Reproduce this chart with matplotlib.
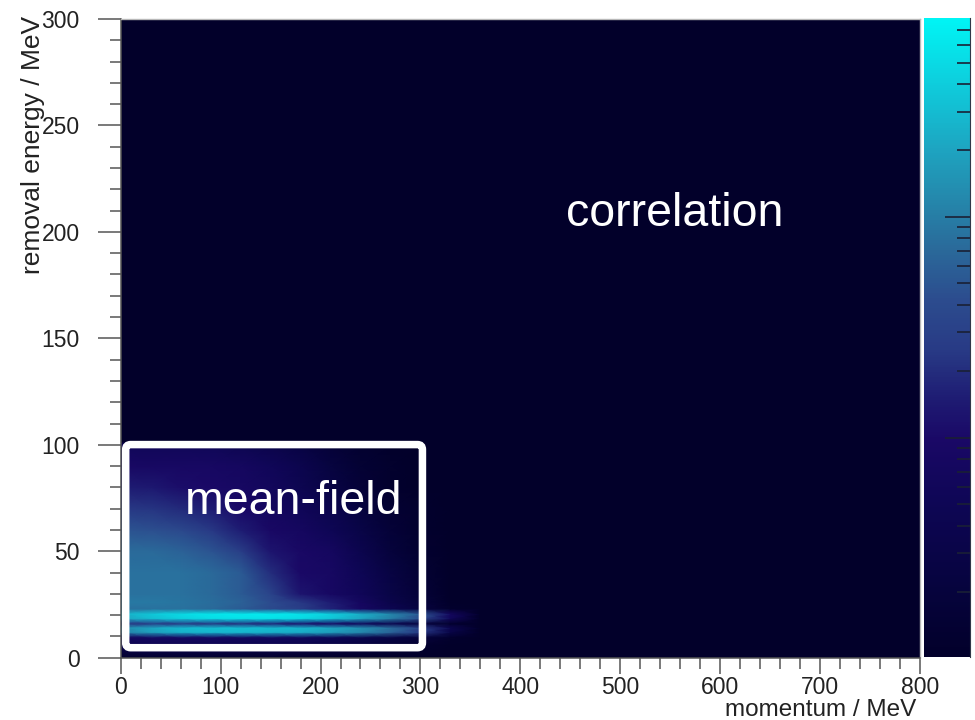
import numpy as np
import matplotlib
matplotlib.use('Agg')
import matplotlib.pyplot as plt
from matplotlib.colors import LinearSegmentedColormap, LogNorm
from matplotlib.patches import FancyBboxPatch
from matplotlib.ticker import MultipleLocator, LogLocator, NullFormatter

plt.rcParams['font.family'] = ['Liberation Sans', 'DejaVu Sans']

# grid nodes of the spectral function
momentum = [0, 30, 60, 90, 120, 150, 180, 210, 240, 270, 300, 330, 360, 400, 800]
energy = [0, 6, 9.5, 12, 14, 16, 18.5, 20.5, 23, 26, 30, 40, 50, 60, 70, 80, 90, 100, 101.5, 300]

# intensity, one row per energy node, one column per momentum node
intensity = [
    [0.012, 0.013, 0.013, 0.013, 0.013, 0.012, 0.011, 0.01, 0.01, 0.01, 0.01, 0.01, 0.01, 0.01, 0.01],
    [0.039, 0.044, 0.044, 0.044, 0.039, 0.039, 0.034, 0.028, 0.023, 0.017, 0.013, 0.01, 0.01, 0.01, 0.01],
    [0.075, 0.086, 0.086, 0.086, 0.075, 0.075, 0.066, 0.054, 0.039, 0.028, 0.020, 0.012, 0.01, 0.01, 0.01],
    [1.0, 1.8, 2.5, 2.7, 2.7, 2.5, 2.3, 1.8, 1.2, 0.65, 0.24, 0.03, 0.01, 0.01, 0.01],
    [1.2, 2.1, 2.9, 3.1, 3.1, 2.9, 2.7, 2.1, 1.4, 0.76, 0.28, 0.04, 0.01, 0.01, 0.01],
    [0.25, 0.25, 0.25, 0.23, 0.20, 0.17, 0.12, 0.09, 0.061, 0.039, 0.023, 0.012, 0.01, 0.01, 0.01],
    [2.0, 3.0, 4.2, 5.2, 5.6, 5.6, 4.9, 3.5, 2.1, 1.05, 0.42, 0.06, 0.01, 0.01, 0.01],
    [2.4, 3.55, 4.95, 6.05, 6.45, 6.45, 5.65, 4.05, 2.4, 1.2, 0.48, 0.07, 0.01, 0.01, 0.01],
    [0.82, 0.82, 0.82, 0.72, 0.55, 0.40, 0.28, 0.17, 0.086, 0.044, 0.023, 0.012, 0.01, 0.01, 0.01],
    [0.93, 0.93, 0.87, 0.76, 0.63, 0.42, 0.25, 0.15, 0.075, 0.034, 0.020, 0.011, 0.01, 0.01, 0.01],
    [0.82, 0.82, 0.82, 0.72, 0.55, 0.33, 0.13, 0.086, 0.057, 0.030, 0.017, 0.01, 0.01, 0.01, 0.01],
    [0.82, 0.82, 0.82, 0.72, 0.55, 0.20, 0.098, 0.086, 0.050, 0.026, 0.015, 0.01, 0.01, 0.01, 0.01],
    [0.72, 0.72, 0.63, 0.48, 0.28, 0.13, 0.092, 0.075, 0.039, 0.020, 0.013, 0.01, 0.01, 0.01, 0.01],
    [0.48, 0.45, 0.37, 0.25, 0.15, 0.092, 0.075, 0.050, 0.030, 0.017, 0.012, 0.01, 0.01, 0.01, 0.01],
    [0.25, 0.23, 0.19, 0.15, 0.098, 0.075, 0.057, 0.039, 0.023, 0.014, 0.012, 0.01, 0.01, 0.01, 0.01],
    [0.15, 0.14, 0.11, 0.098, 0.086, 0.066, 0.044, 0.028, 0.017, 0.012, 0.01, 0.01, 0.01, 0.01, 0.01],
    [0.092, 0.086, 0.086, 0.086, 0.075, 0.057, 0.039, 0.023, 0.015, 0.012, 0.01, 0.01, 0.01, 0.01, 0.01],
    [0.057, 0.057, 0.057, 0.054, 0.044, 0.034, 0.026, 0.017, 0.013, 0.011, 0.01, 0.01, 0.01, 0.01, 0.01],
    [0.01] * 15,
    [0.01] * 15,
]

# palette sampled from the colour bar (bottom -> top)
palette = [
    (0.00, '#02002a'), (0.12, '#070440'), (0.24, '#0e0655'), (0.34, '#1a0866'),
    (0.40, '#1e1a72'), (0.48, '#283a85'), (0.56, '#2c4c8e'), (0.64, '#2a6a9a'),
    (0.71, '#2585aa'), (0.79, '#1ea2bf'), (0.87, '#12c2d5'), (1.00, '#00f5f5'),
]
cmap = LinearSegmentedColormap.from_list('deep', palette)
cmap.set_under(palette[0][1])
norm = LogNorm(vmin=0.0102, vmax=7.95)

fig = plt.figure(figsize=(9.75, 7.2), dpi=100)
ax = fig.add_axes([120.7 / 975, 62.3 / 720, 799.3 / 975, 638.7 / 720])
cax = fig.add_axes([924 / 975, 63 / 720, 46 / 975, 639 / 720])

mesh = ax.pcolormesh(momentum, energy, np.array(intensity), shading='gouraud',
                     cmap=cmap, norm=norm)
ax.set_xlim(0, 800)
ax.set_ylim(0, 300)

# axes in ROOT look
ax_col = '#555555'
for side in ['left', 'bottom']:
    ax.spines[side].set_color(ax_col)
    ax.spines[side].set_linewidth(1.1)
for side in ['top', 'right']:
    ax.spines[side].set_color('#b8b8b8')
    ax.spines[side].set_linewidth(1.0)

ax.xaxis.set_major_locator(MultipleLocator(100))
ax.xaxis.set_minor_locator(MultipleLocator(20))
ax.yaxis.set_major_locator(MultipleLocator(50))
ax.yaxis.set_minor_locator(MultipleLocator(10))
ax.tick_params(axis='x', which='major', direction='out', length=11.5, width=1.1,
               color=ax_col, labelsize=16.5, pad=2, labelcolor='#222222')
ax.tick_params(axis='x', which='minor', direction='out', length=8, width=1.1, color=ax_col)
ax.tick_params(axis='y', which='major', direction='out', length=16.5, width=1.1,
               color=ax_col, labelsize=16.5, pad=13, labelcolor='#222222')
ax.tick_params(axis='y', which='minor', direction='out', length=8, width=1.1, color=ax_col)

fig.text(916 / 975, 4 / 720, 'momentum / MeV', ha='right', va='baseline',
         fontsize=17.5, color='#222222')
fig.text(40 / 975, 1 - 16 / 720, 'removal energy / MeV', rotation=90,
         rotation_mode='anchor', ha='right', va='baseline', fontsize=19, color='#222222')

# annotations
ax.text(446, 203, 'correlation', fontsize=33.5, color='white', va='baseline')
ax.text(64, 67.5, 'mean-field', fontsize=33.5, color='white', va='baseline')
box = FancyBboxPatch((5, 4.7), 297, 95.4, boxstyle='round,pad=0,rounding_size=5',
                     mutation_aspect=0.47, fill=False, edgecolor='white', linewidth=5.4)
ax.add_patch(box)

# colour bar, log scale, no labels
cb = fig.colorbar(mesh, cax=cax)
cb.outline.set_visible(False)
cax.yaxis.set_major_locator(LogLocator(base=10))
cax.yaxis.set_minor_locator(LogLocator(base=10, subs=[2, 3, 4, 5, 6, 7, 8, 9]))
cax.yaxis.set_major_formatter(NullFormatter())
cax.yaxis.set_minor_formatter(NullFormatter())
cax.tick_params(which='both', direction='in', right=True, left=False,
                labelright=False, labelleft=False, color='#1a2035', width=1.2)
cax.tick_params(which='major', length=18)
cax.tick_params(which='minor', length=9.4)
cax.spines['right'].set_visible(True)
cax.spines['right'].set_color('#303848')

fig.savefig('out.png', dpi=100)
